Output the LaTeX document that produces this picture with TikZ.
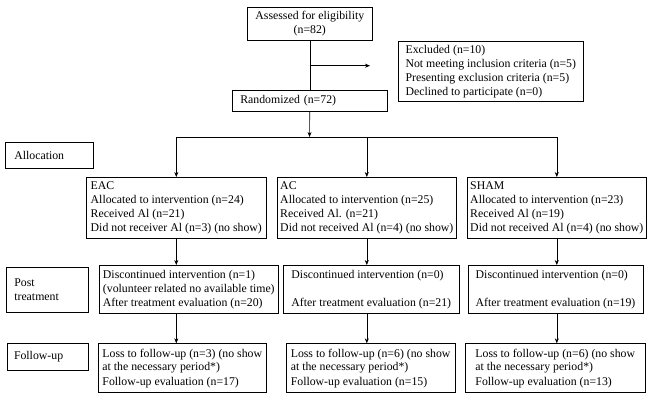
\documentclass[tikz,border=0pt]{standalone}
\usepackage{fontspec}
\setmainfont{Liberation Serif}
\usetikzlibrary{arrows.meta}
\tikzset{
  box/.style={draw, line width=0.6pt, anchor=north west, inner sep=1.5pt, align=left,
    font=\fontsize{11.8}{14}\selectfont},
  lbox/.style={box, inner xsep=#1},
  arr/.style={line width=0.6pt, -{Stealth[length=5pt,width=4pt]}},
  ln/.style={line width=0.6pt}
}
\begin{document}
\begin{tikzpicture}[x=1pt,y=1pt]
\useasboundingbox (0,0) rectangle (651,-401);
\node[box, align=center, minimum width=125pt, minimum height=33pt] (assess) at (247,-7) {Assessed for eligibility\\(n=82)};
\node[box, minimum width=185pt, minimum height=60pt] (excl) at (398,-41) {Excluded (n=10)\\Not meeting inclusion criteria (n=5)\\Presenting exclusion criteria (n=5)\\Declined to participate (n=0)};
\node[lbox=8pt, text width=139pt, minimum height=21pt] (rand) at (232,-90) {Randomized (n=72)};
\node[lbox=9pt, text width=70pt, minimum height=26.5pt] (alloc) at (5,-142) {Allocation};
\node[box, minimum width=180pt, minimum height=61pt] (eac) at (86,-177) {EAC\\Allocated to intervention (n=24)\\Received Al (n=21)\\Did not receiver Al (n=3) (no show)};
\node[box, minimum width=179pt, minimum height=61pt] (ac) at (277,-177) {AC\\Allocated to intervention (n=25)\\Received Al. (n=21)\\Did not received Al (n=4) (no show)};
\node[box, minimum width=179pt, minimum height=61pt] (sham) at (467,-177) {SHAM\\Allocated to intervention (n=23)\\Received Al (n=19)\\Did not received Al (n=4) (no show)};
\node[lbox=8pt, text width=66pt, minimum height=45pt] (post) at (6,-267) {Post\\treatment};
\node[box, minimum width=179pt, minimum height=48pt] (eacpost) at (99,-265) {Discontinued intervention (n=1)\\(volunteer related no available time)\\After treatment evaluation (n=20)};
\node[box, minimum width=176pt, minimum height=48pt] (acpost) at (283,-265) {Discontinued intervention (n=0)\\\mbox{}\\After treatment evaluation (n=21)};
\node[box, minimum width=174.5pt, minimum height=48pt] (shampost) at (468,-265) {Discontinued intervention (n=0)\\\mbox{}\\After treatment evaluation (n=19)};
\node[lbox=7pt, text width=67pt, minimum height=27pt] (follow) at (6.7,-343.3) {Follow-up};
\node[box, minimum width=167.4pt, minimum height=49pt] (eacfu) at (98.3,-343.3) {Loss to follow-up (n=3) (no show\\at the necessary period*)\\Follow-up evaluation (n=17)};
\node[box, minimum width=169.3pt, minimum height=49pt] (acfu) at (285.7,-343.3) {Loss to follow-up (n=6) (no show\\at the necessary period*)\\Follow-up evaluation (n=15)};
\node[box, minimum width=180pt, minimum height=49pt] (shamfu) at (465,-343.3) {Loss to follow-up (n=6) (no show\\at the necessary period*)\\Follow-up evaluation (n=13)};
% connectors
\coordinate (exc) at (309.5,-65.7);
\coordinate (excend) at (370,-65.7);
\coordinate (split) at (309.5,-137);
\draw[ln] (assess.south) -- (rand.north);
\draw[arr] (exc) -- (excend);
\draw[arr] (rand.south) -- (split);
\draw[arr] (split) -| (eac.north);
\draw[arr] (split) -| (sham.north);
\draw[arr] (ac.north |- split) -- (ac.north);
\draw[arr] (eac.south) -- (eac.south |- eacpost.north);
\draw[arr] (ac.south) -- (ac.south |- acpost.north);
\draw[arr] (sham.south) -- (sham.south |- shampost.north);
\draw[arr] (eac.south |- eacpost.south) -- (eac.south |- eacfu.north);
\draw[arr] (ac.south |- acpost.south) -- (ac.south |- acfu.north);
\draw[arr] (sham.south |- shampost.south) -- (sham.south |- shamfu.north);
\end{tikzpicture}
\end{document}
